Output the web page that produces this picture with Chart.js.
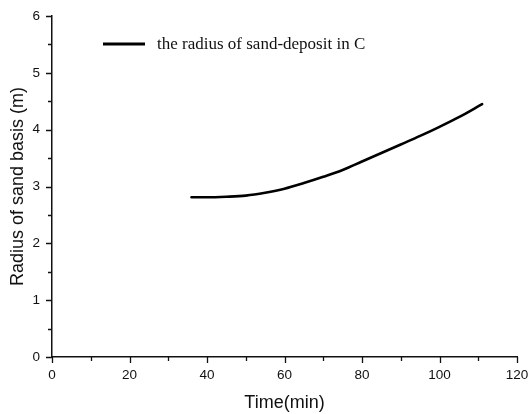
<!DOCTYPE html>
<html>
<head>
<meta charset="utf-8">
<title>Radius of sand basis</title>
<script src="https://cdn.jsdelivr.net/npm/chart.js@4"></script>
<style>
  html, body { margin: 0; padding: 0; background: #fff; }
  #wrap { width: 529px; height: 414px; }
</style>
</head>
<body>
<div id="wrap"><canvas id="chart" width="529" height="414"></canvas></div>
<script>
// ── data ─────────────────────────────────────────────
const timeMin = [36, 40, 45, 50, 55, 60, 65, 70, 75, 80, 85, 90, 95, 100, 105, 111];
const radius  = [2.81, 2.81, 2.82, 2.84, 2.89, 2.96, 3.06, 3.17, 3.29, 3.44, 3.59, 3.74, 3.89, 4.05, 4.22, 4.45];
const xTicks  = [0, 20, 40, 60, 80, 100, 120];
const yTicks  = [0, 1, 2, 3, 4, 5, 6];
const seriesLabel = 'the radius of sand-deposit in C';

const INK = '#111';
Chart.defaults.font.family = '"Liberation Sans", Arial, sans-serif';
Chart.defaults.color = INK;

// ticks outside the axes, major + minor (Chart.js has no minor ticks)
const axisTicks = {
  id: 'axisTicks',
  afterDraw(chart) {
    const { ctx, scales: { x, y } } = chart;
    ctx.save();
    ctx.strokeStyle = INK;
    ctx.lineWidth = 1.3;
    ctx.beginPath();
    for (let v = x.min; v <= x.max; v += 10) {
      const px = Math.round(x.getPixelForValue(v)) + 0.5;
      const len = xTicks.includes(v) ? 6 : 4;
      ctx.moveTo(px, x.top);
      ctx.lineTo(px, x.top + len);
    }
    for (let v = y.min; v <= y.max + 1e-9; v += 0.5) {
      const py = Math.round(y.getPixelForValue(v)) + 0.5;
      const len = yTicks.includes(v) ? 6 : 4;
      ctx.moveTo(y.right, py);
      ctx.lineTo(y.right - len, py);
    }
    ctx.stroke();
    ctx.restore();
  }
};

// legend drawn inside the plot area, upper left
const innerLegend = {
  id: 'innerLegend',
  afterDraw(chart) {
    const { ctx, chartArea } = chart;
    const ds = chart.data.datasets[0];
    const x0 = chartArea.left + 51, y0 = chartArea.top + 28;
    ctx.save();
    ctx.strokeStyle = ds.borderColor;
    ctx.lineWidth = 3;
    ctx.beginPath();
    ctx.moveTo(x0, y0);
    ctx.lineTo(x0 + 42, y0);
    ctx.stroke();
    ctx.fillStyle = INK;
    ctx.font = '17px "Liberation Serif", "Times New Roman", serif';
    ctx.textBaseline = 'middle';
    ctx.fillText(ds.label, x0 + 54, y0 + 1);
    ctx.restore();
  }
};

new Chart(document.getElementById('chart'), {
  type: 'line',
  data: {
    datasets: [{
      label: seriesLabel,
      data: timeMin.map((t, i) => ({ x: t, y: radius[i] })),
      borderColor: '#000',
      borderWidth: 2.6,
      borderCapStyle: 'round',
      cubicInterpolationMode: 'monotone',
      pointRadius: 0,
      fill: false
    }]
  },
  options: {
    responsive: false,
    animation: false,
    layout: { padding: { top: 16, right: 12, left: 0, bottom: 0 } },
    plugins: { legend: { display: false }, tooltip: { enabled: false } },
    scales: {
      x: {
        type: 'linear', min: 0, max: 120,
        afterBuildTicks: s => { s.ticks = xTicks.map(v => ({ value: v })); },
        afterFit: s => { s.height = 57; s.paddingLeft = 0; s.paddingRight = 0; },
        grid: { display: false, drawTicks: false },
        border: { display: true, color: INK, width: 1.5 },
        ticks: { font: { size: 13.5 }, padding: 10, maxRotation: 0 },
        title: { display: true, text: 'Time(min)', font: { size: 18 }, padding: { top: 0, bottom: 0 } }
      },
      y: {
        min: 0, max: 6,
        afterBuildTicks: s => { s.ticks = yTicks.map(v => ({ value: v })); },
        afterFit: s => { s.width = 52; s.paddingTop = 0; s.paddingBottom = 0; },
        grid: { display: false, drawTicks: false },
        border: { display: true, color: INK, width: 1.5 },
        ticks: { font: { size: 13.5 }, padding: 12 },
        title: { display: true, text: 'Radius of sand basis (m)', font: { size: 18 }, padding: { top: 7, bottom: 0 } }
      }
    }
  },
  plugins: [axisTicks, innerLegend]
});
</script>
</body>
</html>
